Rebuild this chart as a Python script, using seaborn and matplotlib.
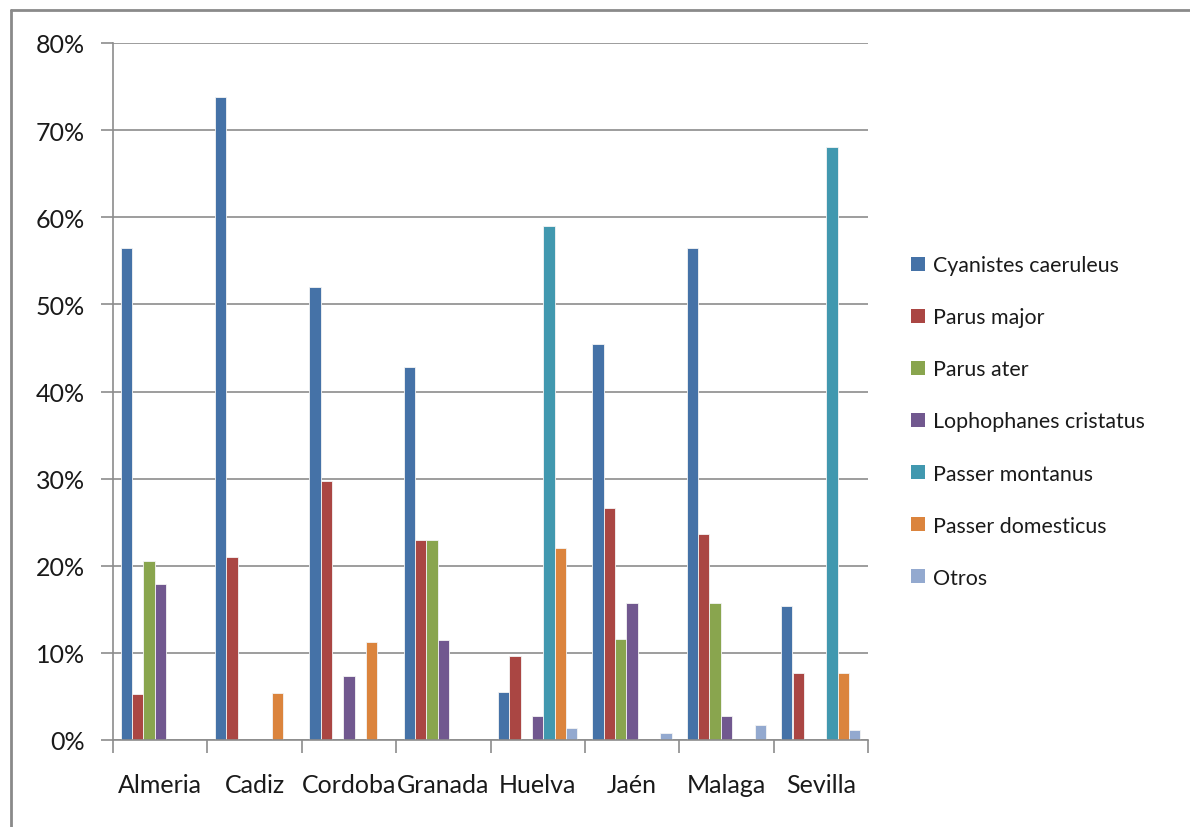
import matplotlib
matplotlib.use("Agg")
import matplotlib.pyplot as plt
from matplotlib.lines import Line2D
from matplotlib.patches import Patch
from matplotlib.ticker import FuncFormatter, FixedLocator
import numpy as np
import pandas as pd
import seaborn as sns

# Provinces and species shares (fraction of nests per province)
provinces = ["Almeria", "Cadiz", "Cordoba", "Granada", "Huelva", "Jaén", "Malaga", "Sevilla"]
species = ["Cyanistes caeruleus", "Parus major", "Parus ater", "Lophophanes cristatus",
           "Passer montanus", "Passer domesticus", "Otros"]

cyanistes_caeruleus = [0.565, 0.738, 0.520, 0.428, 0.055, 0.455, 0.565, 0.154]
parus_major = [0.053, 0.210, 0.297, 0.229, 0.096, 0.266, 0.236, 0.077]
parus_ater = [0.206, 0.0, 0.0, 0.229, 0.0, 0.116, 0.157, 0.0]
lophophanes_cristatus = [0.179, 0.0, 0.074, 0.115, 0.027, 0.157, 0.027, 0.0]
passer_montanus = [0.0, 0.0, 0.0, 0.0, 0.590, 0.0, 0.0, 0.681]
passer_domesticus = [0.0, 0.054, 0.112, 0.0, 0.220, 0.0, 0.0, 0.077]
otros = [0.0, 0.0, 0.0, 0.0, 0.014, 0.008, 0.017, 0.011]

colors = ["#4572A7", "#AA4643", "#89A54E", "#71588F", "#4198AF", "#DB843D", "#93A9CF"]

series = [cyanistes_caeruleus, parus_major, parus_ater, lophophanes_cristatus,
          passer_montanus, passer_domesticus, otros]
rows = []
for sp, vals in zip(species, series):
    for prov, v in zip(provinces, vals):
        if v > 0:
            rows.append({"Provincia": prov, "Especie": sp, "Valor": v})
df = pd.DataFrame(rows)

sns.set_theme(style="white")
plt.rcParams["font.family"] = ["Lato", "DejaVu Sans"]

fig = plt.figure(figsize=(11.9, 8.28), dpi=100)
ax = fig.add_axes([113 / 1190, 1 - 741 / 828, (868 - 113) / 1190, (741 - 44) / 828])

sns.barplot(data=df, x="Provincia", y="Valor", hue="Especie",
            order=provinces, hue_order=species, palette=colors,
            width=0.84, errorbar=None, edgecolor="#f4f4f4", linewidth=0.6,
            saturation=1, ax=ax, legend=False)

grid_c = "#8c8c8c"
ax.set_ylim(0, 0.8)
ax.set_xlim(-0.5, len(provinces) - 0.5)
ax.yaxis.set_major_locator(FixedLocator(np.arange(0, 0.81, 0.1)))
ax.yaxis.set_major_formatter(FuncFormatter(lambda v, _: f"{v * 100:.0f}%"))
ax.yaxis.grid(True, color=grid_c, linewidth=1.2)
ax.set_axisbelow(True)
ax.set_xlabel("")
ax.set_ylabel("")

for s in ["top", "right"]:
    ax.spines[s].set_visible(False)
for s in ["left", "bottom"]:
    ax.spines[s].set_color(grid_c)
    ax.spines[s].set_linewidth(1.2)

ax.tick_params(axis="y", which="major", direction="out", length=9, width=1.2,
               color=grid_c, pad=11, labelsize=18, labelcolor="#1a1a1a", left=True)
ax.set_xticks(range(len(provinces)))
ax.set_xticks(np.arange(-0.5, len(provinces), 1.0), minor=True)
ax.tick_params(axis="x", which="major", length=0, pad=24, labelsize=18, labelcolor="#1a1a1a")
ax.tick_params(axis="x", which="minor", direction="out", length=9, width=1.2,
               color=grid_c, bottom=True)

handles = [Patch(facecolor=c, edgecolor="none", label=s) for c, s in zip(colors, species)]
fig.legend(handles=handles, loc="center left", bbox_to_anchor=(911 / 1190, 1 - 422.5 / 828),
           frameon=False, fontsize=15.4, handlelength=0.65, handleheight=0.65,
           handletextpad=0.4, labelspacing=1.5, borderpad=0, borderaxespad=0,
           labelcolor="#1a1a1a")

# Outer chart frame
frame_c = "#8a8a8a"
fig.add_artist(Line2D([11 / 1190, 1.0], [1 - 11 / 828, 1 - 11 / 828],
                      transform=fig.transFigure, color=frame_c, linewidth=2))
fig.add_artist(Line2D([11 / 1190, 11 / 1190], [0.0, 1 - 11 / 828],
                      transform=fig.transFigure, color=frame_c, linewidth=2))

fig.savefig("out.png", dpi=100, facecolor="white")
